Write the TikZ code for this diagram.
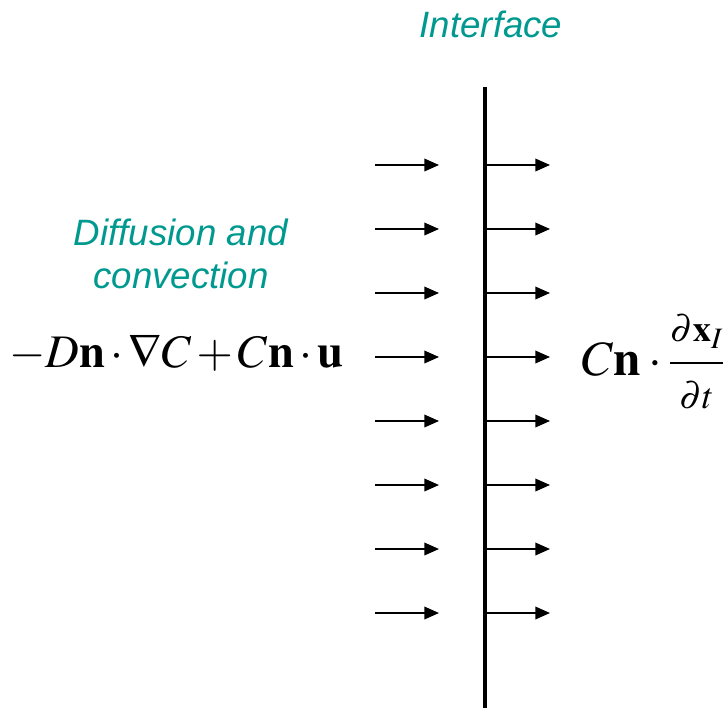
\documentclass[tikz,border=0pt]{standalone}
\usepackage{mathptmx}
\usepackage{fontspec}
\setmainfont{Liberation Sans}
\usepackage{xcolor}
\usetikzlibrary{arrows.meta}
\definecolor{labelteal}{RGB}{0,153,143}

\begin{document}
\begin{tikzpicture}[x=0.75pt, y=-0.75pt,
  lbl/.style={text=labelteal, font=\fontsize{27.5}{32.5}\selectfont\itshape, align=center, inner sep=0pt},
  eqn/.style={font=\fontsize{37}{44}\selectfont, inner sep=0pt},
  flux/.style={-{Triangle[length=11pt, width=9.5pt]}, line width=1.1pt},
  wall/.style={line width=2.3pt}]
\useasboundingbox (0,0) rectangle (728,708);

% interface line
\coordinate (top) at (485,87);
\coordinate (bot) at (485,708);
\draw[wall] (top) -- (bot);
\node[lbl] (iface) at (491,24) {Interface};

% flux arrows on both sides
\foreach \i [evaluate=\i as \yy using 165+64*\i] in {0,...,7}{
  \coordinate (l\i) at (375,\yy);
  \coordinate (m\i) at (439,\yy);
  \coordinate (r\i) at (486,\yy);
  \coordinate (s\i) at (550,\yy);
  \draw[flux] (l\i) -- (m\i);
  \draw[flux] (r\i) -- (s\i);
}

% left: incoming flux
\node[lbl] (diff) at (181,254) {Diffusion and\\convection};
\node[eqn, anchor=west, font=\fontsize{35}{42}\selectfont] (lhs) at (9,353)
  {$\medmuskip=2mu -D\mathbf{n}\cdot\nabla C+C\mathbf{n}\cdot\mathbf{u}$};

% right: interface motion
\node[eqn, anchor=west] (rhs) at (582,362)
  {$C\mathbf{n}\cdot{\displaystyle\frac{\scriptstyle\partial\mathbf{x}_I}{\scriptstyle\partial t}}$};
\end{tikzpicture}
\end{document}
